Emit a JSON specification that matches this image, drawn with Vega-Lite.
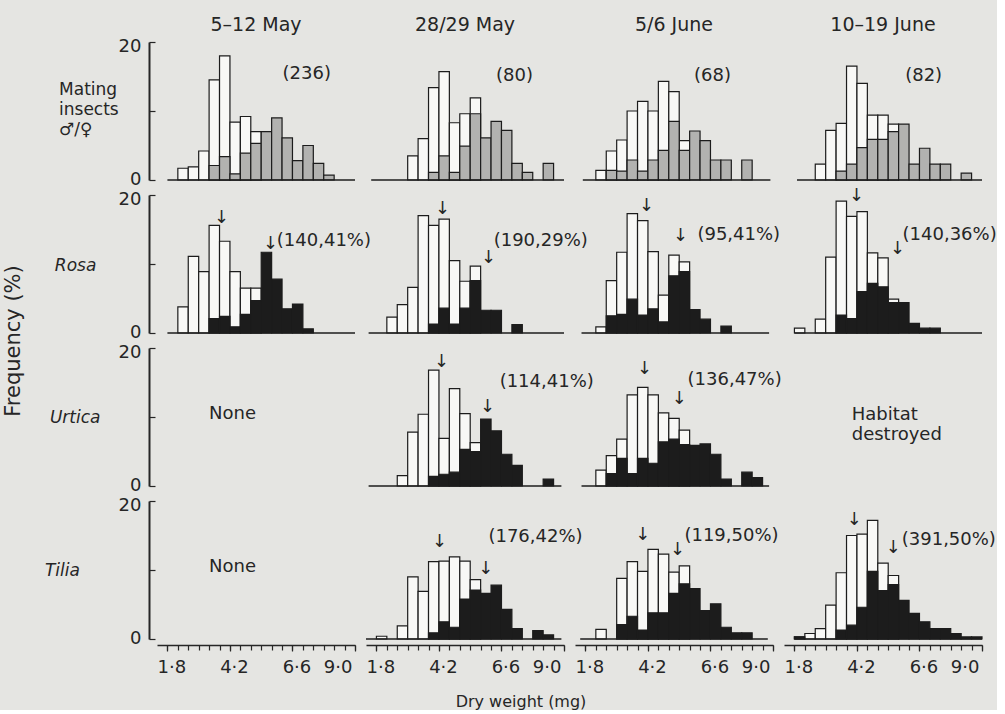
{
"$schema": "https://vega.github.io/schema/vega-lite/v6.json",
"background": "#e5e5e2",
"padding": {"left": 3, "top": 16, "right": 0, "bottom": 0},
"bounds": "flush",
"data": {"values": [
{"r":"Mating insects","c":"5–12 May","k":"bar","w0":2.2,"w1":2.6,"m":1.7,"f":0},
{"r":"Mating insects","c":"5–12 May","k":"bar","w0":2.6,"w1":3.0,"m":1.9,"f":0},
{"r":"Mating insects","c":"5–12 May","k":"bar","w0":3.0,"w1":3.4,"m":4.2,"f":0},
{"r":"Mating insects","c":"5–12 May","k":"bar","w0":3.4,"w1":3.8,"m":14.5,"f":2.1},
{"r":"Mating insects","c":"5–12 May","k":"bar","w0":3.8,"w1":4.2,"m":18.0,"f":3.4},
{"r":"Mating insects","c":"5–12 May","k":"bar","w0":4.2,"w1":4.6,"m":8.4,"f":0.9},
{"r":"Mating insects","c":"5–12 May","k":"bar","w0":4.6,"w1":5.0,"m":9.2,"f":3.9},
{"r":"Mating insects","c":"5–12 May","k":"bar","w0":5.0,"w1":5.4,"m":7.0,"f":5.3},
{"r":"Mating insects","c":"5–12 May","k":"bar","w0":5.4,"w1":5.8,"m":0,"f":7.0},
{"r":"Mating insects","c":"5–12 May","k":"bar","w0":5.8,"w1":6.2,"m":0,"f":9.0},
{"r":"Mating insects","c":"5–12 May","k":"bar","w0":6.2,"w1":6.6,"m":0,"f":6.1},
{"r":"Mating insects","c":"5–12 May","k":"bar","w0":6.6,"w1":7.0,"m":0,"f":2.8},
{"r":"Mating insects","c":"5–12 May","k":"bar","w0":7.0,"w1":7.4,"m":0,"f":5.0},
{"r":"Mating insects","c":"5–12 May","k":"bar","w0":7.4,"w1":7.8,"m":0,"f":2.4},
{"r":"Mating insects","c":"5–12 May","k":"bar","w0":7.8,"w1":8.2,"m":0,"f":0.7},
{"r":"Mating insects","c":"28/29 May","k":"bar","w0":3.0,"w1":3.4,"m":3.5,"f":0},
{"r":"Mating insects","c":"28/29 May","k":"bar","w0":3.4,"w1":3.8,"m":6.0,"f":0},
{"r":"Mating insects","c":"28/29 May","k":"bar","w0":3.8,"w1":4.2,"m":13.4,"f":1.1},
{"r":"Mating insects","c":"28/29 May","k":"bar","w0":4.2,"w1":4.6,"m":15.7,"f":3.5},
{"r":"Mating insects","c":"28/29 May","k":"bar","w0":4.6,"w1":5.0,"m":8.3,"f":1.1},
{"r":"Mating insects","c":"28/29 May","k":"bar","w0":5.0,"w1":5.4,"m":9.6,"f":4.9},
{"r":"Mating insects","c":"28/29 May","k":"bar","w0":5.4,"w1":5.8,"m":11.9,"f":9.6},
{"r":"Mating insects","c":"28/29 May","k":"bar","w0":5.8,"w1":6.2,"m":0,"f":6.1},
{"r":"Mating insects","c":"28/29 May","k":"bar","w0":6.2,"w1":6.6,"m":0,"f":8.5},
{"r":"Mating insects","c":"28/29 May","k":"bar","w0":6.6,"w1":7.0,"m":0,"f":7.2},
{"r":"Mating insects","c":"28/29 May","k":"bar","w0":7.0,"w1":7.4,"m":0,"f":2.4},
{"r":"Mating insects","c":"28/29 May","k":"bar","w0":7.4,"w1":7.8,"m":0,"f":1.1},
{"r":"Mating insects","c":"28/29 May","k":"bar","w0":8.2,"w1":8.6,"m":0,"f":2.4},
{"r":"Mating insects","c":"5/6 June","k":"bar","w0":2.2,"w1":2.6,"m":1.4,"f":0},
{"r":"Mating insects","c":"5/6 June","k":"bar","w0":2.6,"w1":3.0,"m":4.2,"f":1.4},
{"r":"Mating insects","c":"5/6 June","k":"bar","w0":3.0,"w1":3.4,"m":5.8,"f":1.3},
{"r":"Mating insects","c":"5/6 June","k":"bar","w0":3.4,"w1":3.8,"m":10.0,"f":2.9},
{"r":"Mating insects","c":"5/6 June","k":"bar","w0":3.8,"w1":4.2,"m":11.4,"f":1.3},
{"r":"Mating insects","c":"5/6 June","k":"bar","w0":4.2,"w1":4.6,"m":10.0,"f":2.9},
{"r":"Mating insects","c":"5/6 June","k":"bar","w0":4.6,"w1":5.0,"m":14.3,"f":4.3},
{"r":"Mating insects","c":"5/6 June","k":"bar","w0":5.0,"w1":5.4,"m":12.8,"f":8.5},
{"r":"Mating insects","c":"5/6 June","k":"bar","w0":5.4,"w1":5.8,"m":5.7,"f":4.3},
{"r":"Mating insects","c":"5/6 June","k":"bar","w0":5.8,"w1":6.2,"m":0,"f":7.1},
{"r":"Mating insects","c":"5/6 June","k":"bar","w0":6.2,"w1":6.6,"m":0,"f":5.7},
{"r":"Mating insects","c":"5/6 June","k":"bar","w0":6.6,"w1":7.0,"m":0,"f":2.9},
{"r":"Mating insects","c":"5/6 June","k":"bar","w0":7.0,"w1":7.4,"m":0,"f":2.9},
{"r":"Mating insects","c":"5/6 June","k":"bar","w0":7.8,"w1":8.2,"m":0,"f":2.9},
{"r":"Mating insects","c":"10–19 June","k":"bar","w0":2.6,"w1":3.0,"m":2.3,"f":0},
{"r":"Mating insects","c":"10–19 June","k":"bar","w0":3.0,"w1":3.4,"m":7.2,"f":0},
{"r":"Mating insects","c":"10–19 June","k":"bar","w0":3.4,"w1":3.8,"m":8.2,"f":1.3},
{"r":"Mating insects","c":"10–19 June","k":"bar","w0":3.8,"w1":4.2,"m":16.5,"f":2.3},
{"r":"Mating insects","c":"10–19 June","k":"bar","w0":4.2,"w1":4.6,"m":14.0,"f":4.7},
{"r":"Mating insects","c":"10–19 June","k":"bar","w0":4.6,"w1":5.0,"m":9.4,"f":5.9},
{"r":"Mating insects","c":"10–19 June","k":"bar","w0":5.0,"w1":5.4,"m":9.4,"f":5.9},
{"r":"Mating insects","c":"10–19 June","k":"bar","w0":5.4,"w1":5.8,"m":8.1,"f":7.0},
{"r":"Mating insects","c":"10–19 June","k":"bar","w0":5.8,"w1":6.2,"m":0,"f":8.1},
{"r":"Mating insects","c":"10–19 June","k":"bar","w0":6.2,"w1":6.6,"m":0,"f":2.3},
{"r":"Mating insects","c":"10–19 June","k":"bar","w0":6.6,"w1":7.0,"m":0,"f":4.6},
{"r":"Mating insects","c":"10–19 June","k":"bar","w0":7.0,"w1":7.4,"m":0,"f":2.3},
{"r":"Mating insects","c":"10–19 June","k":"bar","w0":7.4,"w1":7.8,"m":0,"f":2.3},
{"r":"Mating insects","c":"10–19 June","k":"bar","w0":8.2,"w1":8.6,"m":0,"f":1.0},
{"r":"Rosa","c":"5–12 May","k":"bar","w0":2.2,"w1":2.6,"m":3.8,"f":0},
{"r":"Rosa","c":"5–12 May","k":"bar","w0":2.6,"w1":3.0,"m":11.1,"f":0},
{"r":"Rosa","c":"5–12 May","k":"bar","w0":3.0,"w1":3.4,"m":8.9,"f":0},
{"r":"Rosa","c":"5–12 May","k":"bar","w0":3.4,"w1":3.8,"m":15.6,"f":2.1},
{"r":"Rosa","c":"5–12 May","k":"bar","w0":3.8,"w1":4.2,"m":13.3,"f":2.4},
{"r":"Rosa","c":"5–12 May","k":"bar","w0":4.2,"w1":4.6,"m":8.9,"f":0.9},
{"r":"Rosa","c":"5–12 May","k":"bar","w0":4.6,"w1":5.0,"m":6.5,"f":2.7},
{"r":"Rosa","c":"5–12 May","k":"bar","w0":5.0,"w1":5.4,"m":6.5,"f":4.7},
{"r":"Rosa","c":"5–12 May","k":"bar","w0":5.4,"w1":5.8,"m":0,"f":11.7},
{"r":"Rosa","c":"5–12 May","k":"bar","w0":5.8,"w1":6.2,"m":0,"f":7.8},
{"r":"Rosa","c":"5–12 May","k":"bar","w0":6.2,"w1":6.6,"m":0,"f":3.5},
{"r":"Rosa","c":"5–12 May","k":"bar","w0":6.6,"w1":7.0,"m":0,"f":4.2},
{"r":"Rosa","c":"5–12 May","k":"bar","w0":7.0,"w1":7.4,"m":0,"f":0.6},
{"r":"Rosa","c":"28/29 May","k":"bar","w0":2.2,"w1":2.6,"m":2.3,"f":0},
{"r":"Rosa","c":"28/29 May","k":"bar","w0":2.6,"w1":3.0,"m":4.1,"f":0},
{"r":"Rosa","c":"28/29 May","k":"bar","w0":3.0,"w1":3.4,"m":6.6,"f":0},
{"r":"Rosa","c":"28/29 May","k":"bar","w0":3.4,"w1":3.8,"m":17.0,"f":0},
{"r":"Rosa","c":"28/29 May","k":"bar","w0":3.8,"w1":4.2,"m":15.6,"f":1.3},
{"r":"Rosa","c":"28/29 May","k":"bar","w0":4.2,"w1":4.6,"m":16.5,"f":3.6},
{"r":"Rosa","c":"28/29 May","k":"bar","w0":4.6,"w1":5.0,"m":10.5,"f":1.3},
{"r":"Rosa","c":"28/29 May","k":"bar","w0":5.0,"w1":5.4,"m":7.5,"f":3.6},
{"r":"Rosa","c":"28/29 May","k":"bar","w0":5.4,"w1":5.8,"m":9.7,"f":7.6},
{"r":"Rosa","c":"28/29 May","k":"bar","w0":5.8,"w1":6.2,"m":0,"f":3.3},
{"r":"Rosa","c":"28/29 May","k":"bar","w0":6.2,"w1":6.6,"m":0,"f":3.3},
{"r":"Rosa","c":"28/29 May","k":"bar","w0":7.0,"w1":7.4,"m":0,"f":1.2},
{"r":"Rosa","c":"5/6 June","k":"bar","w0":2.2,"w1":2.6,"m":0.9,"f":0},
{"r":"Rosa","c":"5/6 June","k":"bar","w0":2.6,"w1":3.0,"m":7.6,"f":2.5},
{"r":"Rosa","c":"5/6 June","k":"bar","w0":3.0,"w1":3.4,"m":11.7,"f":2.7},
{"r":"Rosa","c":"5/6 June","k":"bar","w0":3.4,"w1":3.8,"m":17.3,"f":4.9},
{"r":"Rosa","c":"5/6 June","k":"bar","w0":3.8,"w1":4.2,"m":16.3,"f":2.6},
{"r":"Rosa","c":"5/6 June","k":"bar","w0":4.2,"w1":4.6,"m":11.8,"f":3.5},
{"r":"Rosa","c":"5/6 June","k":"bar","w0":4.6,"w1":5.0,"m":5.5,"f":1.6},
{"r":"Rosa","c":"5/6 June","k":"bar","w0":5.0,"w1":5.4,"m":11.3,"f":8.3},
{"r":"Rosa","c":"5/6 June","k":"bar","w0":5.4,"w1":5.8,"m":10.3,"f":8.9},
{"r":"Rosa","c":"5/6 June","k":"bar","w0":5.8,"w1":6.2,"m":0,"f":3.4},
{"r":"Rosa","c":"5/6 June","k":"bar","w0":6.2,"w1":6.6,"m":0,"f":2.0},
{"r":"Rosa","c":"5/6 June","k":"bar","w0":7.0,"w1":7.4,"m":0,"f":1.0},
{"r":"Rosa","c":"10–19 June","k":"bar","w0":1.8,"w1":2.2,"m":0.7,"f":0},
{"r":"Rosa","c":"10–19 June","k":"bar","w0":2.6,"w1":3.0,"m":2.0,"f":0},
{"r":"Rosa","c":"10–19 June","k":"bar","w0":3.0,"w1":3.4,"m":11.0,"f":0},
{"r":"Rosa","c":"10–19 June","k":"bar","w0":3.4,"w1":3.8,"m":19.1,"f":2.6},
{"r":"Rosa","c":"10–19 June","k":"bar","w0":3.8,"w1":4.2,"m":16.9,"f":2.1},
{"r":"Rosa","c":"10–19 June","k":"bar","w0":4.2,"w1":4.6,"m":17.6,"f":6.0},
{"r":"Rosa","c":"10–19 June","k":"bar","w0":4.6,"w1":5.0,"m":11.6,"f":7.2},
{"r":"Rosa","c":"10–19 June","k":"bar","w0":5.0,"w1":5.4,"m":10.9,"f":6.7},
{"r":"Rosa","c":"10–19 June","k":"bar","w0":5.4,"w1":5.8,"m":4.9,"f":4.4},
{"r":"Rosa","c":"10–19 June","k":"bar","w0":5.8,"w1":6.2,"m":0,"f":4.4},
{"r":"Rosa","c":"10–19 June","k":"bar","w0":6.2,"w1":6.6,"m":0,"f":1.4},
{"r":"Rosa","c":"10–19 June","k":"bar","w0":6.6,"w1":7.0,"m":0,"f":0.7},
{"r":"Rosa","c":"10–19 June","k":"bar","w0":7.0,"w1":7.4,"m":0,"f":0.7},
{"r":"Urtica","c":"28/29 May","k":"bar","w0":2.6,"w1":3.0,"m":1.5,"f":0},
{"r":"Urtica","c":"28/29 May","k":"bar","w0":3.0,"w1":3.4,"m":7.8,"f":0},
{"r":"Urtica","c":"28/29 May","k":"bar","w0":3.4,"w1":3.8,"m":10.4,"f":0},
{"r":"Urtica","c":"28/29 May","k":"bar","w0":3.8,"w1":4.2,"m":16.8,"f":1.4},
{"r":"Urtica","c":"28/29 May","k":"bar","w0":4.2,"w1":4.6,"m":6.9,"f":1.7},
{"r":"Urtica","c":"28/29 May","k":"bar","w0":4.6,"w1":5.0,"m":14.1,"f":2.0},
{"r":"Urtica","c":"28/29 May","k":"bar","w0":5.0,"w1":5.4,"m":10.5,"f":5.3},
{"r":"Urtica","c":"28/29 May","k":"bar","w0":5.4,"w1":5.8,"m":6.3,"f":5.0},
{"r":"Urtica","c":"28/29 May","k":"bar","w0":5.8,"w1":6.2,"m":0,"f":9.7},
{"r":"Urtica","c":"28/29 May","k":"bar","w0":6.2,"w1":6.6,"m":0,"f":8.0},
{"r":"Urtica","c":"28/29 May","k":"bar","w0":6.6,"w1":7.0,"m":0,"f":4.6},
{"r":"Urtica","c":"28/29 May","k":"bar","w0":7.0,"w1":7.4,"m":0,"f":3.0},
{"r":"Urtica","c":"28/29 May","k":"bar","w0":8.2,"w1":8.6,"m":0,"f":1.0},
{"r":"Urtica","c":"5/6 June","k":"bar","w0":2.2,"w1":2.6,"m":2.3,"f":0},
{"r":"Urtica","c":"5/6 June","k":"bar","w0":2.6,"w1":3.0,"m":4.4,"f":1.8},
{"r":"Urtica","c":"5/6 June","k":"bar","w0":3.0,"w1":3.4,"m":6.8,"f":4.0},
{"r":"Urtica","c":"5/6 June","k":"bar","w0":3.4,"w1":3.8,"m":13.2,"f":1.8},
{"r":"Urtica","c":"5/6 June","k":"bar","w0":3.8,"w1":4.2,"m":14.3,"f":4.0},
{"r":"Urtica","c":"5/6 June","k":"bar","w0":4.2,"w1":4.6,"m":13.2,"f":3.3},
{"r":"Urtica","c":"5/6 June","k":"bar","w0":4.6,"w1":5.0,"m":10.6,"f":6.4},
{"r":"Urtica","c":"5/6 June","k":"bar","w0":5.0,"w1":5.4,"m":9.8,"f":6.8},
{"r":"Urtica","c":"5/6 June","k":"bar","w0":5.4,"w1":5.8,"m":8.1,"f":6.0},
{"r":"Urtica","c":"5/6 June","k":"bar","w0":5.8,"w1":6.2,"m":0,"f":5.9},
{"r":"Urtica","c":"5/6 June","k":"bar","w0":6.2,"w1":6.6,"m":0,"f":6.1},
{"r":"Urtica","c":"5/6 June","k":"bar","w0":6.6,"w1":7.0,"m":0,"f":4.6},
{"r":"Urtica","c":"5/6 June","k":"bar","w0":7.0,"w1":7.4,"m":0,"f":1.0},
{"r":"Urtica","c":"5/6 June","k":"bar","w0":7.8,"w1":8.2,"m":0,"f":2.0},
{"r":"Urtica","c":"5/6 June","k":"bar","w0":8.2,"w1":8.6,"m":0,"f":1.2},
{"r":"Tilia","c":"28/29 May","k":"bar","w0":1.8,"w1":2.2,"m":0.4,"f":0},
{"r":"Tilia","c":"28/29 May","k":"bar","w0":2.6,"w1":3.0,"m":1.9,"f":0},
{"r":"Tilia","c":"28/29 May","k":"bar","w0":3.0,"w1":3.4,"m":9.0,"f":0},
{"r":"Tilia","c":"28/29 May","k":"bar","w0":3.4,"w1":3.8,"m":6.9,"f":0},
{"r":"Tilia","c":"28/29 May","k":"bar","w0":3.8,"w1":4.2,"m":11.2,"f":0.9},
{"r":"Tilia","c":"28/29 May","k":"bar","w0":4.2,"w1":4.6,"m":11.3,"f":2.5},
{"r":"Tilia","c":"28/29 May","k":"bar","w0":4.6,"w1":5.0,"m":11.9,"f":1.7},
{"r":"Tilia","c":"28/29 May","k":"bar","w0":5.0,"w1":5.4,"m":11.3,"f":5.8},
{"r":"Tilia","c":"28/29 May","k":"bar","w0":5.4,"w1":5.8,"m":8.6,"f":7.1},
{"r":"Tilia","c":"28/29 May","k":"bar","w0":5.8,"w1":6.2,"m":0,"f":6.6},
{"r":"Tilia","c":"28/29 May","k":"bar","w0":6.2,"w1":6.6,"m":0,"f":7.8},
{"r":"Tilia","c":"28/29 May","k":"bar","w0":6.6,"w1":7.0,"m":0,"f":4.3},
{"r":"Tilia","c":"28/29 May","k":"bar","w0":7.0,"w1":7.4,"m":0,"f":1.5},
{"r":"Tilia","c":"28/29 May","k":"bar","w0":7.8,"w1":8.2,"m":0,"f":1.2},
{"r":"Tilia","c":"28/29 May","k":"bar","w0":8.2,"w1":8.6,"m":0,"f":0.6},
{"r":"Tilia","c":"5/6 June","k":"bar","w0":2.2,"w1":2.6,"m":1.4,"f":0},
{"r":"Tilia","c":"5/6 June","k":"bar","w0":3.0,"w1":3.4,"m":8.8,"f":2.1},
{"r":"Tilia","c":"5/6 June","k":"bar","w0":3.4,"w1":3.8,"m":11.2,"f":3.3},
{"r":"Tilia","c":"5/6 June","k":"bar","w0":3.8,"w1":4.2,"m":9.8,"f":1.3},
{"r":"Tilia","c":"5/6 June","k":"bar","w0":4.2,"w1":4.6,"m":13.0,"f":3.8},
{"r":"Tilia","c":"5/6 June","k":"bar","w0":4.6,"w1":5.0,"m":12.3,"f":3.8},
{"r":"Tilia","c":"5/6 June","k":"bar","w0":5.0,"w1":5.4,"m":9.7,"f":6.6},
{"r":"Tilia","c":"5/6 June","k":"bar","w0":5.4,"w1":5.8,"m":10.6,"f":8.0},
{"r":"Tilia","c":"5/6 June","k":"bar","w0":5.8,"w1":6.2,"m":0,"f":7.3},
{"r":"Tilia","c":"5/6 June","k":"bar","w0":6.2,"w1":6.6,"m":0,"f":4.1},
{"r":"Tilia","c":"5/6 June","k":"bar","w0":6.6,"w1":7.0,"m":0,"f":5.1},
{"r":"Tilia","c":"5/6 June","k":"bar","w0":7.0,"w1":7.4,"m":0,"f":1.7},
{"r":"Tilia","c":"5/6 June","k":"bar","w0":7.4,"w1":7.8,"m":0,"f":0.9},
{"r":"Tilia","c":"5/6 June","k":"bar","w0":7.8,"w1":8.2,"m":0,"f":0.9},
{"r":"Tilia","c":"10–19 June","k":"bar","w0":1.8,"w1":2.2,"m":0.3,"f":0.3},
{"r":"Tilia","c":"10–19 June","k":"bar","w0":2.2,"w1":2.6,"m":0.8,"f":0},
{"r":"Tilia","c":"10–19 June","k":"bar","w0":2.6,"w1":3.0,"m":1.5,"f":0},
{"r":"Tilia","c":"10–19 June","k":"bar","w0":3.0,"w1":3.4,"m":4.9,"f":0},
{"r":"Tilia","c":"10–19 June","k":"bar","w0":3.4,"w1":3.8,"m":9.6,"f":1.3},
{"r":"Tilia","c":"10–19 June","k":"bar","w0":3.8,"w1":4.2,"m":15.0,"f":2.0},
{"r":"Tilia","c":"10–19 June","k":"bar","w0":4.2,"w1":4.6,"m":15.2,"f":4.6},
{"r":"Tilia","c":"10–19 June","k":"bar","w0":4.6,"w1":5.0,"m":17.2,"f":9.8},
{"r":"Tilia","c":"10–19 June","k":"bar","w0":5.0,"w1":5.4,"m":11.0,"f":7.0},
{"r":"Tilia","c":"10–19 June","k":"bar","w0":5.4,"w1":5.8,"m":9.2,"f":7.9},
{"r":"Tilia","c":"10–19 June","k":"bar","w0":5.8,"w1":6.2,"m":0,"f":5.6},
{"r":"Tilia","c":"10–19 June","k":"bar","w0":6.2,"w1":6.6,"m":0,"f":3.7},
{"r":"Tilia","c":"10–19 June","k":"bar","w0":6.6,"w1":7.0,"m":0,"f":2.5},
{"r":"Tilia","c":"10–19 June","k":"bar","w0":7.0,"w1":7.4,"m":0,"f":1.5},
{"r":"Tilia","c":"10–19 June","k":"bar","w0":7.4,"w1":7.8,"m":0,"f":1.5},
{"r":"Tilia","c":"10–19 June","k":"bar","w0":7.8,"w1":8.2,"m":0,"f":0.8},
{"r":"Tilia","c":"10–19 June","k":"bar","w0":8.2,"w1":8.6,"m":0,"f":0.3},
{"r":"Tilia","c":"10–19 June","k":"bar","w0":8.6,"w1":9.0,"m":0,"f":0.3},
{"r":"Mating insects","c":"5–12 May","k":"base","x":1.8,"x2":9.0},
{"r":"Mating insects","c":"28/29 May","k":"base","x":1.6,"x2":9.0},
{"r":"Mating insects","c":"5/6 June","k":"base","x":1.7,"x2":8.9},
{"r":"Mating insects","c":"10–19 June","k":"base","x":1.9,"x2":9.0},
{"r":"Rosa","c":"5–12 May","k":"base","x":1.8,"x2":9.0},
{"r":"Rosa","c":"28/29 May","k":"base","x":1.5,"x2":9.0},
{"r":"Rosa","c":"5/6 June","k":"base","x":1.65,"x2":8.85},
{"r":"Rosa","c":"10–19 June","k":"base","x":1.8,"x2":9.0},
{"r":"Urtica","c":"28/29 May","k":"base","x":1.5,"x2":8.9},
{"r":"Urtica","c":"5/6 June","k":"base","x":1.65,"x2":8.85},
{"r":"Tilia","c":"28/29 May","k":"base","x":1.4,"x2":8.9},
{"r":"Tilia","c":"5/6 June","k":"base","x":1.6,"x2":8.8},
{"r":"Tilia","c":"10–19 June","k":"base","x":1.8,"x2":9.0},
{"r":"Mating insects","c":"5–12 May","k":"rowlab","x":-2.36,"y":13.1,"t":"Mating|insects|♂/♀"},
{"r":"Rosa","c":"5–12 May","k":"rowlab","x":-2.52,"y":9.7,"t":"Rosa"},
{"r":"Urtica","c":"5–12 May","k":"rowlab","x":-2.71,"y":9.8,"t":"Urtica"},
{"r":"Tilia","c":"5–12 May","k":"rowlab","x":-2.9,"y":9.8,"t":"Tilia"},
{"r":"Mating insects","c":"5–12 May","k":"cnt","x":7.15,"y":15.3,"t":"(236)"},
{"r":"Mating insects","c":"28/29 May","k":"cnt","x":7.1,"y":15.1,"t":"(80)"},
{"r":"Mating insects","c":"5/6 June","k":"cnt","x":6.68,"y":15.1,"t":"(68)"},
{"r":"Mating insects","c":"10–19 June","k":"cnt","x":6.76,"y":15.1,"t":"(82)"},
{"r":"Rosa","c":"5–12 May","k":"lab","x":6.0,"y":13.4,"t":"(140,41%)"},
{"r":"Rosa","c":"28/29 May","k":"lab","x":6.3,"y":13.4,"t":"(190,29%)"},
{"r":"Rosa","c":"5/6 June","k":"lab","x":6.1,"y":14.2,"t":"(95,41%)"},
{"r":"Rosa","c":"10–19 June","k":"lab","x":5.95,"y":14.2,"t":"(140,36%)"},
{"r":"Urtica","c":"28/29 May","k":"lab","x":6.53,"y":15.1,"t":"(114,41%)"},
{"r":"Urtica","c":"5/6 June","k":"lab","x":5.72,"y":15.4,"t":"(136,47%)"},
{"r":"Tilia","c":"28/29 May","k":"lab","x":6.1,"y":14.8,"t":"(176,42%)"},
{"r":"Tilia","c":"5/6 June","k":"lab","x":5.6,"y":14.9,"t":"(119,50%)"},
{"r":"Tilia","c":"10–19 June","k":"lab","x":5.92,"y":14.3,"t":"(391,50%)"},
{"r":"Urtica","c":"5–12 May","k":"note","x":3.4,"y":10.4,"t":"None"},
{"r":"Tilia","c":"5–12 May","k":"note","x":3.4,"y":10.5,"t":"None"},
{"r":"Urtica","c":"10–19 June","k":"note","x":4.0,"y":10.3,"t":"Habitat|destroyed"},
{"r":"Rosa","c":"5–12 May","k":"arr","x":3.88,"y":16.0},
{"r":"Rosa","c":"5–12 May","k":"arr","x":5.76,"y":12.2},
{"r":"Rosa","c":"28/29 May","k":"arr","x":4.34,"y":17.2},
{"r":"Rosa","c":"28/29 May","k":"arr","x":6.1,"y":10.2},
{"r":"Rosa","c":"5/6 June","k":"arr","x":4.15,"y":17.7},
{"r":"Rosa","c":"5/6 June","k":"arr","x":5.45,"y":13.4},
{"r":"Rosa","c":"10–19 June","k":"arr","x":4.18,"y":19.2},
{"r":"Rosa","c":"10–19 June","k":"arr","x":5.76,"y":11.5},
{"r":"Urtica","c":"28/29 May","k":"arr","x":4.3,"y":17.3},
{"r":"Urtica","c":"28/29 May","k":"arr","x":6.07,"y":10.7},
{"r":"Urtica","c":"5/6 June","k":"arr","x":4.07,"y":16.3},
{"r":"Urtica","c":"5/6 June","k":"arr","x":5.4,"y":11.9},
{"r":"Tilia","c":"28/29 May","k":"arr","x":4.22,"y":13.3},
{"r":"Tilia","c":"28/29 May","k":"arr","x":6.0,"y":9.4},
{"r":"Tilia","c":"5/6 June","k":"arr","x":4.0,"y":14.3},
{"r":"Tilia","c":"5/6 June","k":"arr","x":5.34,"y":12.2},
{"r":"Tilia","c":"10–19 June","k":"arr","x":4.1,"y":16.5},
{"r":"Tilia","c":"10–19 June","k":"arr","x":5.6,"y":12.5}
]},
"facet": {
  "row": {"field": "r", "type": "nominal", "sort": ["Mating insects", "Rosa", "Urtica", "Tilia"], "title": "Frequency (%)",
    "header": {"labels": false, "titleOrient": "left", "titleFontSize": 21, "titlePadding": 84}},
  "column": {"field": "c", "type": "nominal", "sort": ["5–12 May", "28/29 May", "5/6 June", "10–19 June"], "title": "Dry weight (mg)",
    "header": {"labelOrient": "top", "titleOrient": "bottom", "labelFontSize": 19, "labelPadding": 7, "titleFontSize": 16, "titlePadding": 8}}
},
"spacing": {"row": 15, "column": 11},
"spec": {
  "width": 198, "height": 138,
  "resolve": {"axis": {"x": "independent"}},
  "layer": [
    {"transform": [{"filter": "datum.k == 'bar' && datum.m > 0"}],
     "mark": {"type": "rect", "fill": "#f8f8f6", "stroke": "#1c1c1c", "strokeWidth": 1.2},
     "encoding": {
       "x": {"field": "w0", "type": "quantitative", "scale": {"domain": [1.4, 9.0], "nice": false, "zero": false},
         "axis": {"orient": "bottom", "title": null, "values": [1.8, 4.2, 6.6, 9.0],
           "labelExpr": "replace(format(datum.value, '.1f'), '.', '·')",
           "labelAlign": {"condition": {"test": "datum.value == 9", "value": "right"}, "value": "center"},
           "labelOffset": {"condition": {"test": "datum.value == 9", "value": -3}, "value": 4},
           "tickSize": 6, "offset": 6, "labelFontSize": 18, "labelPadding": 7, "labelFlush": false, "labelOverlap": false, "domainWidth": 1.5}},
       "x2": {"field": "w1"},
       "y": {"field": "m", "type": "quantitative", "scale": {"domain": [0, 20], "nice": false},
         "axis": {"title": null, "values": [0, 10, 20], "labelExpr": "datum.value == 10 ? '' : datum.label",
           "labelOffset": {"condition": {"test": "datum.value == 0", "value": -1}, "value": 4},
           "tickSize": -6, "labelPadding": 14, "offset": 8, "labelFontSize": 18, "labelOverlap": false, "domainWidth": 2}},
       "y2": {"datum": 0}
     }},
    {"transform": [{"filter": "datum.k == 'bar' && datum.f > 0"}],
     "mark": {"type": "rect", "stroke": "#1c1c1c", "strokeWidth": 1.2},
     "encoding": {
       "x": {"field": "w0", "type": "quantitative",
         "axis": {"orient": "bottom", "title": null, "values": [1.8,2.2,2.6,3.0,3.4,3.8,4.2,4.6,5.0,5.4,5.8,6.2,6.6,7.0,7.4,7.8,8.2,8.6,9.0],
           "labels": false, "domain": false, "tickSize": 5, "offset": 6}},
       "x2": {"field": "w1"},
       "y": {"field": "f", "type": "quantitative", "axis": {"title": null}},
       "y2": {"datum": 0},
       "fill": {"condition": {"test": "datum.r == 'Mating insects'", "value": "#b2b2b0"}, "value": "#1c1c1c"}
     }},
    {"transform": [{"filter": "datum.k == 'base'"}],
     "mark": {"type": "rule", "stroke": "#1c1c1c", "strokeWidth": 1.5},
     "encoding": {
       "x": {"field": "x", "type": "quantitative", "axis": null},
       "x2": {"field": "x2"},
       "y": {"datum": 0, "type": "quantitative", "axis": {"title": null}}
     }},
    {"transform": [{"filter": "datum.k == 'cnt'"}],
     "mark": {"type": "text", "align": "center", "baseline": "middle", "fontSize": 18, "color": "#262626"},
     "encoding": {
       "x": {"field": "x", "type": "quantitative", "axis": null},
       "y": {"field": "y", "type": "quantitative", "axis": {"title": null}},
       "text": {"field": "t"}
     }},
    {"transform": [{"filter": "datum.k == 'lab' || datum.k == 'note'"}],
     "mark": {"type": "text", "align": "left", "baseline": "middle", "fontSize": 18, "lineBreak": "|", "lineHeight": 20, "color": "#262626"},
     "encoding": {
       "x": {"field": "x", "type": "quantitative", "axis": null},
       "y": {"field": "y", "type": "quantitative", "axis": {"title": null}},
       "text": {"field": "t"}
     }},
    {"transform": [{"filter": "datum.k == 'rowlab' && datum.r == 'Mating insects'"}],
     "mark": {"type": "text", "align": "left", "baseline": "middle", "fontSize": 17, "lineBreak": "|", "lineHeight": 20, "color": "#262626"},
     "encoding": {
       "x": {"field": "x", "type": "quantitative", "axis": null},
       "y": {"field": "y", "type": "quantitative", "axis": {"title": null}},
       "text": {"field": "t"}
     }},
    {"transform": [{"filter": "datum.k == 'rowlab' && datum.r != 'Mating insects'"}],
     "mark": {"type": "text", "align": "left", "baseline": "middle", "fontSize": 17, "fontStyle": "italic", "color": "#262626"},
     "encoding": {
       "x": {"field": "x", "type": "quantitative", "axis": null},
       "y": {"field": "y", "type": "quantitative", "axis": {"title": null}},
       "text": {"field": "t"}
     }},
    {"transform": [{"filter": "datum.k == 'arr'"}],
     "mark": {"type": "text", "align": "center", "baseline": "alphabetic", "fontSize": 18, "color": "#262626", "text": "↓"},
     "encoding": {
       "x": {"field": "x", "type": "quantitative", "axis": null},
       "y": {"field": "y", "type": "quantitative", "axis": {"title": null}}
     }}
  ]
},
"config": {
  "font": "DejaVu Sans",
  "view": {"stroke": null},
  "axis": {"grid": false, "labelFont": "DejaVu Sans", "labelColor": "#262626", "domainColor": "#262626", "tickColor": "#262626", "tickWidth": 1.2},
  "header": {"labelFont": "DejaVu Sans", "titleFont": "DejaVu Sans", "labelColor": "#262626", "titleColor": "#262626", "titleFontWeight": "normal"}
}
}
